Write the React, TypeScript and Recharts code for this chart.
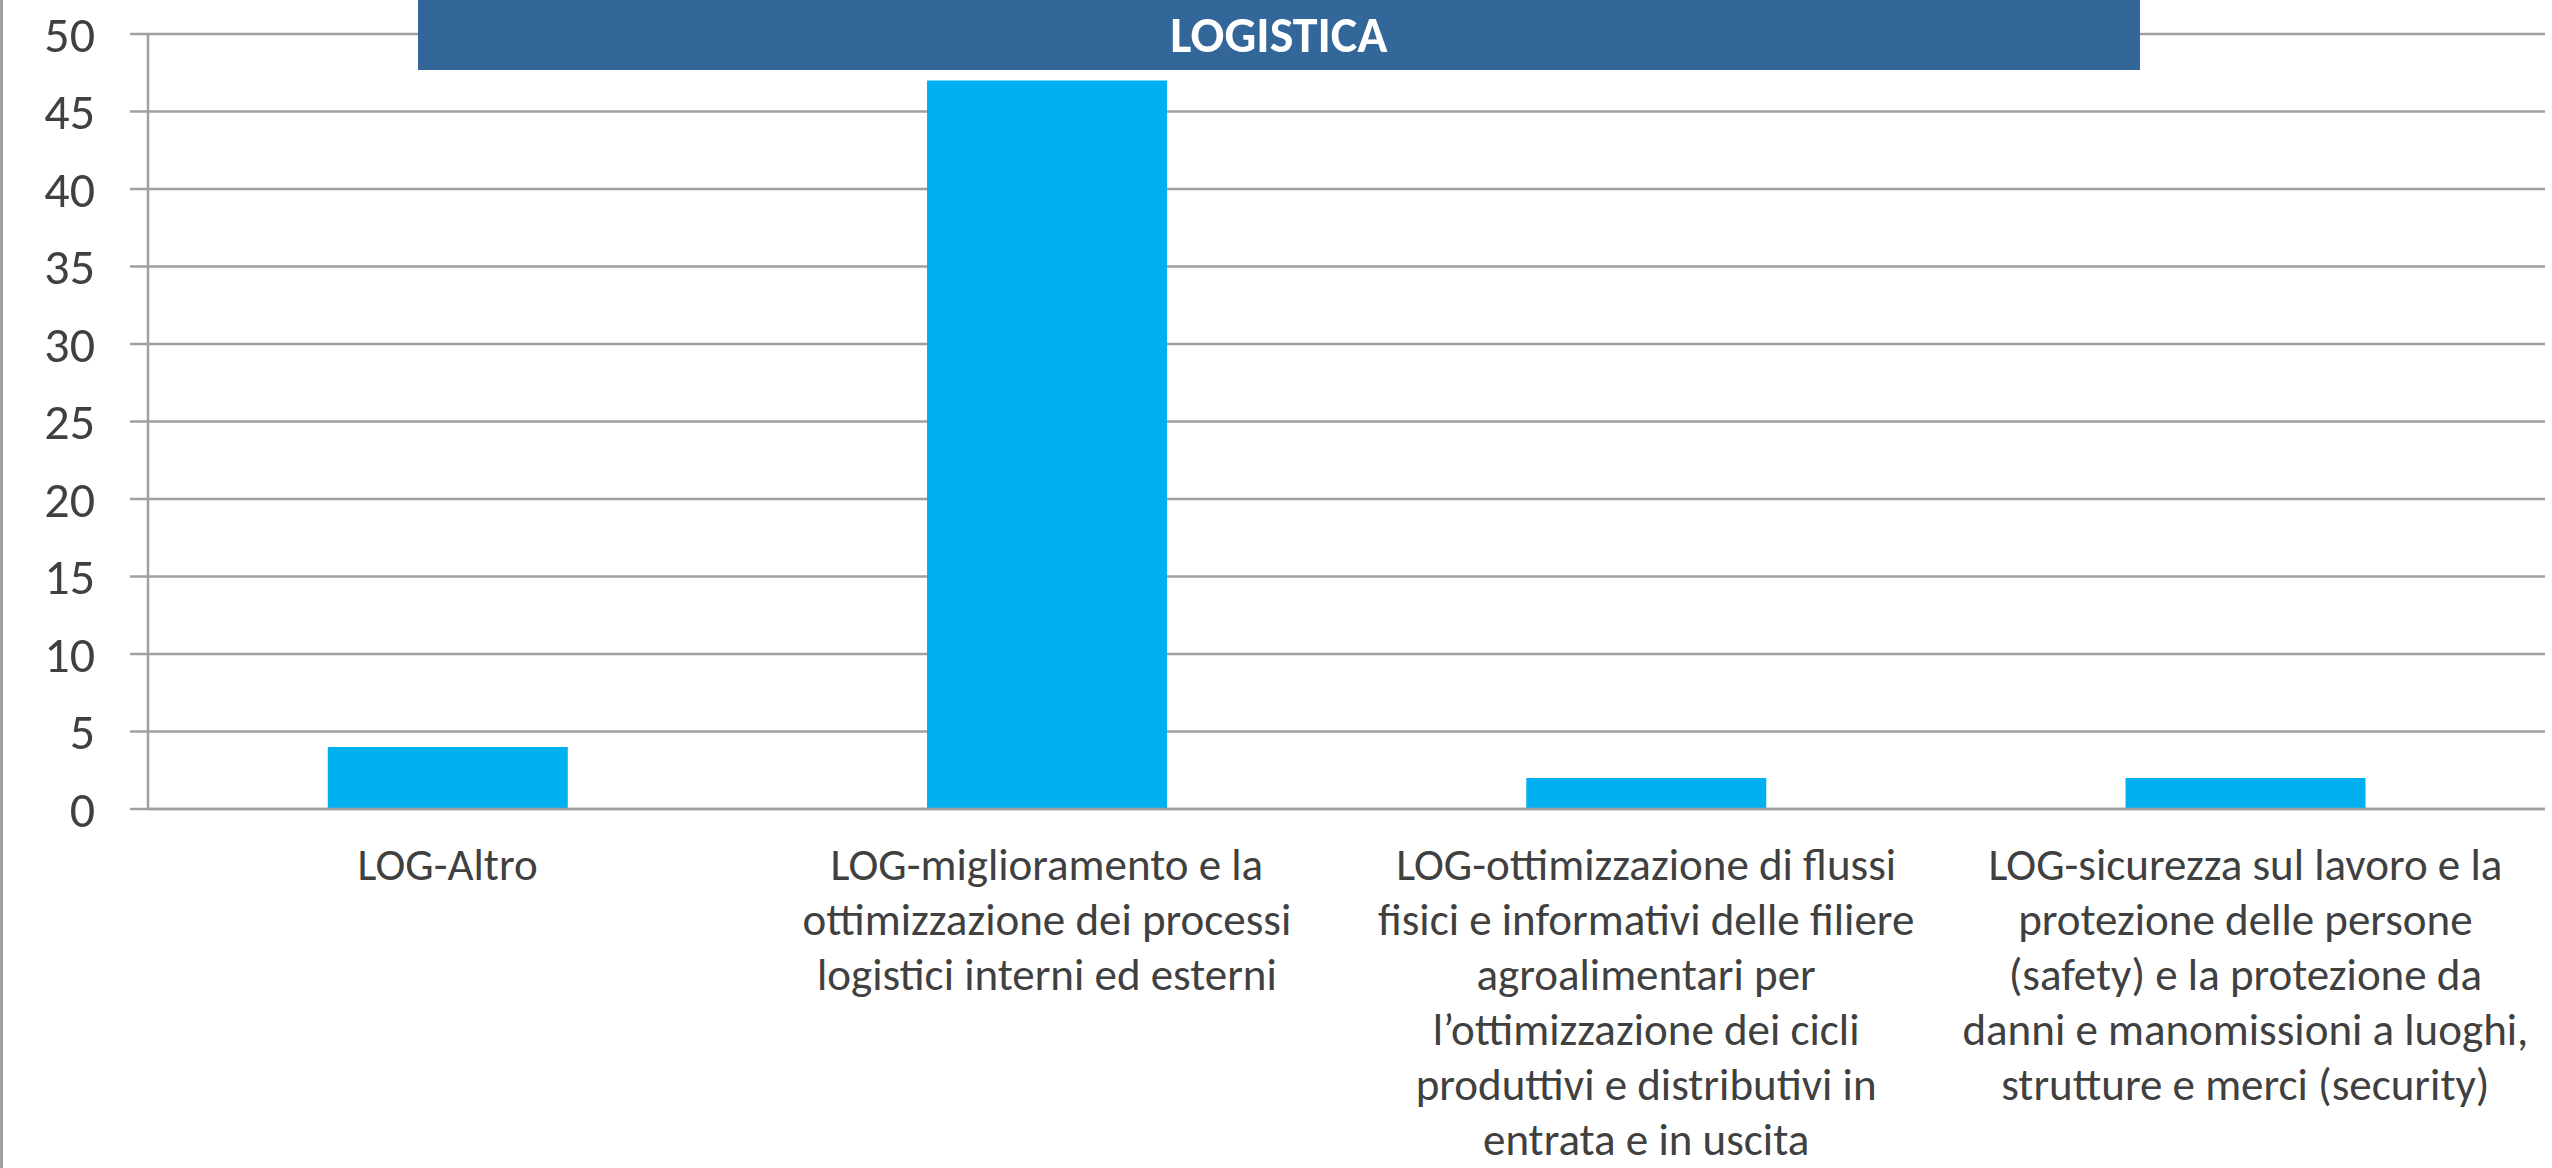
import { BarChart, Bar, XAxis, YAxis, CartesianGrid } from "recharts";

// --- data ---
const categories = [
    "LOG-Altro",
    "LOG-miglioramento e la ottimizzazione dei processi logistici interni ed esterni",
    "LOG-ottimizzazione di flussi fisici e informativi delle filiere agroalimentari per l’ottimizzazione dei cicli produttivi e distributivi in entrata e in uscita",
    "LOG-sicurezza sul lavoro e la protezione delle persone (safety) e la protezione da danni e manomissioni a luoghi, strutture e merci (security)",
];
const values = [4, 47, 2, 2];
// line breaks as they appear under each bar
const labelLines = [
    ["LOG-Altro"],
    ["LOG-miglioramento e la", "ottimizzazione dei processi", "logistici interni ed esterni"],
    [
        "LOG-ottimizzazione di flussi",
        "fisici e informativi delle filiere",
        "agroalimentari per",
        "l’ottimizzazione dei cicli",
        "produttivi e distributivi in",
        "entrata e in uscita",
    ],
    [
        "LOG-sicurezza sul lavoro e la",
        "protezione delle persone",
        "(safety) e la protezione da",
        "danni e manomissioni a luoghi,",
        "strutture e merci (security)",
    ],
];
const yTicks = [0, 5, 10, 15, 20, 25, 30, 35, 40, 45, 50];
const boundaryTicks = [0, 1, 2, 3, 4];
const title = "LOGISTICA";

const data = categories.map((name, i) => ({ name, value: values[i] }));

const FONT = "Carlito, Calibri, Lato, sans-serif";
const GRID = "#a0a0a0";
const TEXT = "#404040";

const CategoryTick = (props: any) => {
    const { x, y, index } = props;
    const lines = labelLines[index] ?? [];
    return (
        <text x={x} y={y} textAnchor="middle" fill={TEXT} fontSize={45} fontFamily={FONT}>
            {lines.map((line, i) => (
                <tspan key={i} x={x} dy={i === 0 ? 71 : 55}>
                    {line}
                </tspan>
            ))}
        </text>
    );
};

export default function App() {
    return (
        <div style={{ position: "absolute", left: 0, top: 0, width: 2552, height: 1168, background: "#fff" }}>
            <div
                style={{
                    position: "absolute",
                    left: 0,
                    top: 0,
                    width: 3,
                    height: 1168,
                    background: GRID,
                }}
            />
            <BarChart
                width={2552}
                height={1168}
                data={data}
                margin={{ top: 34, right: 7, left: 0, bottom: 0 }}
                barCategoryGap="30%"
            >
                <CartesianGrid xAxisId="cat" vertical={false} stroke={GRID} strokeWidth={2.5} />
                <XAxis
                    xAxisId="bounds"
                    type="number"
                    domain={[0, 4]}
                    ticks={boundaryTicks}
                    allowDataOverflow
                    height={0}
                    tick={false}
                    axisLine={false}
                    tickSize={17}
                    tickLine={{ stroke: GRID, strokeWidth: 2.5 }}
                />
                <XAxis
                    xAxisId="cat"
                    dataKey="name"
                    height={359}
                    interval={0}
                    tickLine={false}
                    tickSize={0}
                    tickMargin={0}
                    axisLine={{ stroke: GRID, strokeWidth: 2.5 }}
                    tick={<CategoryTick />}
                />
                <YAxis
                    width={148}
                    domain={[0, 50]}
                    ticks={yTicks}
                    interval={0}
                    tickSize={18}
                    tickMargin={35}
                    axisLine={{ stroke: GRID, strokeWidth: 2.5 }}
                    tickLine={{ stroke: GRID, strokeWidth: 2.5 }}
                    tick={{ fill: TEXT, fontSize: 50, fontFamily: FONT }}
                />
                <Bar xAxisId="cat" dataKey="value" fill="#00B0F0" isAnimationActive={false} />
            </BarChart>
            <div
                style={{
                    position: "absolute",
                    left: 418,
                    top: 0,
                    width: 1722,
                    height: 70,
                    background: "#336699",
                    color: "#fff",
                    fontFamily: FONT,
                    fontWeight: 700,
                    fontSize: 50,
                    lineHeight: "70px",
                    textAlign: "center",
                }}
            >
                {title}
            </div>
        </div>
    );
}
